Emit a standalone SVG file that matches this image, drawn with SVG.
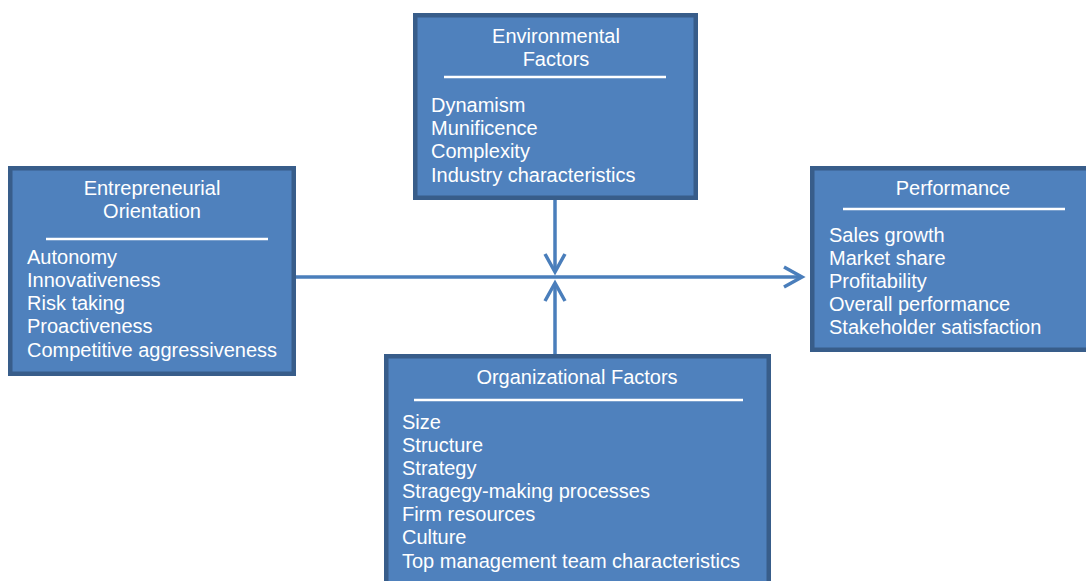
<svg xmlns="http://www.w3.org/2000/svg" width="1086" height="581" viewBox="0 0 1086 581">
<style>
.box{fill:#4f81bd;stroke:#385d8a;stroke-width:4.5}
.rule{stroke:#ffffff;stroke-width:2.5}
text{font-family:"Liberation Sans",Arial,sans-serif;font-size:20px;fill:#ffffff}
.c{text-anchor:middle}
.conn{fill:none;stroke:#4a7ebb;stroke-width:3.5;stroke-linejoin:miter}
</style>
<rect width="1086" height="581" fill="#ffffff"/>
<g id="connectors">
<line class="conn" x1="296" y1="277" x2="802" y2="277"/>
<polyline class="conn" points="784,267 802,277 784,287"/>
<line class="conn" x1="555" y1="200" x2="555" y2="272"/>
<polyline class="conn" points="545,254 555,272 565,254"/>
<line class="conn" x1="555" y1="355" x2="555" y2="283"/>
<polyline class="conn" points="545,301 555,283 565,301"/>
</g>
<g id="environmental">
<rect class="box" x="415.25" y="15.25" width="280.5" height="182.5"/>
<text class="c" x="556" y="43">Environmental</text>
<text class="c" x="556" y="66">Factors</text>
<line class="rule" x1="444" y1="77" x2="666" y2="77"/>
<text x="431" y="112">Dynamism</text>
<text x="431" y="135">Munificence</text>
<text x="431" y="158">Complexity</text>
<text x="431" y="182">Industry characteristics</text>
</g>
<g id="entrepreneurial">
<rect class="box" x="10.25" y="168.25" width="283.5" height="205.5"/>
<text class="c" x="152" y="195">Entrepreneurial</text>
<text class="c" x="152" y="218">Orientation</text>
<line class="rule" x1="46" y1="239" x2="268" y2="239"/>
<text x="27" y="264">Autonomy</text>
<text x="27" y="287">Innovativeness</text>
<text x="27" y="310">Risk taking</text>
<text x="27" y="333">Proactiveness</text>
<text x="27" y="357">Competitive aggressiveness</text>
</g>
<g id="performance">
<rect class="box" x="812.25" y="168.25" width="290" height="181.5"/>
<text class="c" x="953" y="195">Performance</text>
<line class="rule" x1="843" y1="209" x2="1065" y2="209"/>
<text x="829" y="242">Sales growth</text>
<text x="829" y="265">Market share</text>
<text x="829" y="288">Profitability</text>
<text x="829" y="311">Overall performance</text>
<text x="829" y="334">Stakeholder satisfaction</text>
</g>
<g id="organizational">
<rect class="box" x="386.25" y="356.25" width="382.5" height="240"/>
<text class="c" x="577" y="384">Organizational Factors</text>
<line class="rule" x1="414" y1="400" x2="743" y2="400"/>
<text x="402" y="429">Size</text>
<text x="402" y="452">Structure</text>
<text x="402" y="475">Strategy</text>
<text x="402" y="498">Stragegy-making processes</text>
<text x="402" y="521">Firm resources</text>
<text x="402" y="544">Culture</text>
<text x="402" y="568">Top management team characteristics</text>
</g>
</svg>
